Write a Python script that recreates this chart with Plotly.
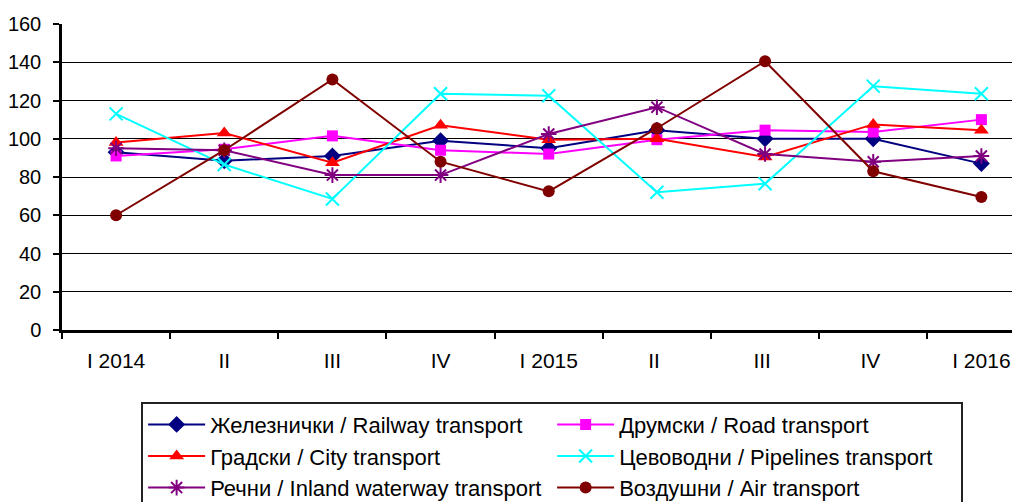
import plotly.graph_objects as go

categories = ["I 2014", "II", "III", "IV", "I 2015", "II ", "III ", "IV ", "I 2016"]

railway = [93, 88.5, 91, 99, 95, 104.5, 100, 100, 87]
road = [91, 94.5, 101.5, 94, 92, 99.5, 104.5, 103.5, 110]
city = [98, 103, 87.5, 107, 99.5, 100, 90.5, 107.5, 104.5]
pipelines = [113, 86.5, 68.5, 123.5, 122.5, 72, 76.5, 127.5, 123.5]
inland = [95, 94, 81, 81, 102.5, 116.5, 92, 88, 91]
air = [60, 94, 131, 88, 72.5, 105.5, 140.5, 83, 69.5]

series = [
    ("Железнички / Railway transport", railway, "#000080", "diamond", 13),
    ("Друмски / Road transport", road, "#FF00FF", "square", 11),
    ("Градски / City transport", city, "#FF0000", "triangle-up", 13),
    ("Цевоводни / Pipelines transport", pipelines, "#00FFFF", "x-thin-open", 13),
    ("Речни / Inland waterway transport", inland, "#800080", "asterisk-open", 13),
    ("Воздушни / Air transport", air, "#800000", "circle", 12),
]

fig = go.Figure()
for name, vals, color, sym, size in series:
    marker = dict(symbol=sym, size=size, color=color)
    if sym.endswith("-open"):
        marker["line"] = dict(color=color, width=2)
    else:
        marker["line"] = dict(width=0)
    fig.add_trace(go.Scatter(
        x=categories, y=vals, name=name, mode="lines+markers",
        line=dict(color=color, width=2), marker=marker,
    ))

font = "Liberation Sans, Arial, sans-serif"
# page body has an 8px margin, so the figure is 1012x494 placed at (8, 8)
fig.update_layout(
    width=1012, height=494,
    margin=dict(l=54, r=0, t=16, b=172, autoexpand=False),
    paper_bgcolor="white", plot_bgcolor="white",
    font=dict(family=font, size=20, color="black"),
    showlegend=True,
    legend=dict(
        orientation="h", x=0.0826, xanchor="left", y=-0.234, yanchor="top",
        bordercolor="#222222", borderwidth=2, bgcolor="white",
        font=dict(family=font, size=22, color="black"),
        entrywidth=337, entrywidthmode="pixels", itemwidth=57,
        traceorder="normal",
    ),
)
fig.update_xaxes(
    type="category", categoryorder="array", categoryarray=categories,
    range=[-0.5, 8.357], tickson="boundaries", automargin=False,
    ticks="outside", ticklen=6, tickcolor="black", tickwidth=1.5,
    showline=True, linecolor="black", linewidth=2.5,
    showgrid=False, zeroline=False,
    tickfont=dict(family=font, size=21, color="black"),
    ticklabelstandoff=10,
)
fig.update_yaxes(
    range=[0, 160], dtick=20, tick0=0, automargin=False,
    ticks="outside", ticklen=6, tickcolor="black", tickwidth=1.5,
    showline=True, linecolor="black", linewidth=2.5,
    showgrid=True, gridcolor="black", gridwidth=1,
    zeroline=False,
    tickfont=dict(family=font, size=20, color="black"),
    ticklabelstandoff=8,
)

fig.write_html("out.html")
